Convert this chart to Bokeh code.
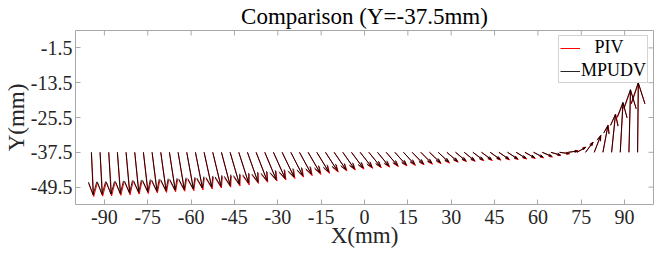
from bokeh.plotting import figure
from bokeh.models import FixedTicker, Legend, LegendItem, Range1d
from bokeh.embed import file_html
from bokeh.resources import INLINE

# ---- data (mm) ----
x_pos = [-94.5, -91.5, -88.5, -85.5, -82.5, -79.5, -76.5, -73.5,
         -70.5, -67.5, -64.5, -61.5, -58.5, -55.5, -52.5, -49.5,
         -46.5, -43.5, -40.5, -37.5, -34.5, -31.5, -28.5, -25.5,
         -22.5, -19.5, -16.5, -13.5, -10.5, -7.5, -4.5, -1.5,
         1.5, 4.5, 7.5, 10.5, 13.5, 16.5, 19.5, 22.5,
         25.5, 28.5, 31.5, 34.5, 37.5, 40.5, 43.5, 46.5,
         49.5, 52.5, 55.5, 58.5, 61.5, 64.5, 67.5, 70.5,
         73.5, 76.5, 79.5, 82.5, 85.5, 88.5, 91.5, 94.5]
y_row = -37.5

u_piv = [0.8, 0.9, 1.0, 1.2, 1.4, 1.55, 1.7, 1.85,
         2.0, 2.15, 2.3, 2.45, 2.6, 2.8, 3.0, 3.2,
         3.4, 3.6, 3.8, 4.0, 4.2, 4.3, 4.4, 4.4,
         4.4, 4.4, 4.4, 4.4, 4.4, 4.3, 4.3, 4.3,
         4.3, 4.2, 4.2, 4.2, 4.1, 4.1, 4.0, 4.0,
         3.9, 3.9, 3.8, 3.8, 3.8, 3.7, 3.7, 3.7,
         3.7, 3.6, 3.6, 3.5, 3.5, 3.5, 3.5, 3.4,
         3.1, 2.6, 2.3, 1.8, 1.4, 1.0, 0.6, 0.3]
v_piv = [-15.2, -15.1, -15.0, -14.8, -14.6, -14.4, -14.2, -14.0,
         -13.8, -13.6, -13.4, -13.2, -12.9, -12.6, -12.3, -12.0,
         -11.6, -11.2, -10.7, -10.3, -9.9, -9.5, -9.0, -8.5,
         -8.0, -7.6, -7.2, -6.8, -6.4, -6.1, -5.8, -5.5,
         -5.3, -5.1, -4.9, -4.7, -4.5, -4.3, -4.1, -3.9,
         -3.7, -3.4, -3.2, -3.1, -2.9, -2.8, -2.7, -2.6,
         -2.5, -2.3, -2.1, -1.9, -1.6, -1.1, -0.5, 0.5,
         1.8, 3.5, 5.9, 9.4, 13.2, 17.0, 21.4, 23.8]

u_mpudv = [0.6, 0.7, 0.8, 1.0, 1.2, 1.35, 1.5, 1.65,
           1.8, 1.95, 2.1, 2.25, 2.4, 2.6, 2.8, 3.0,
           3.2, 3.4, 3.6, 3.8, 3.9, 4.0, 4.1, 4.1,
           4.1, 4.1, 4.1, 4.1, 4.1, 4.0, 4.0, 4.0,
           4.0, 3.9, 3.9, 3.9, 3.8, 3.8, 3.7, 3.7,
           3.6, 3.6, 3.5, 3.5, 3.5, 3.4, 3.4, 3.4,
           3.4, 3.3, 3.3, 3.2, 3.2, 3.2, 3.2, 3.1,
           2.9, 2.5, 2.2, 1.7, 1.3, 0.9, 0.5, 0.2]
v_mpudv = [-14.6, -14.5, -14.4, -14.2, -14.0, -13.8, -13.6, -13.4,
           -13.2, -13.0, -12.8, -12.6, -12.3, -12.0, -11.7, -11.4,
           -11.0, -10.6, -10.2, -9.8, -9.4, -9.0, -8.5, -8.0,
           -7.5, -7.1, -6.7, -6.3, -6.0, -5.7, -5.4, -5.1,
           -4.9, -4.7, -4.5, -4.3, -4.1, -3.9, -3.7, -3.5,
           -3.3, -3.1, -2.9, -2.8, -2.6, -2.5, -2.4, -2.3,
           -2.2, -2.0, -1.8, -1.6, -1.3, -0.9, -0.4, 0.4,
           1.6, 3.4, 5.7, 9.2, 13.0, 17.2, 21.6, 24.0]

x_ticks = [-90, -75, -60, -45, -30, -15, 0, 15, 30, 45, 60, 75, 90]
x_tick_labels = ["-90", "-75", "-60", "-45", "-30", "-15", "0",
                 "15", "30", "45", "60", "75", "90"]
y_ticks = [-49.5, -37.5, -25.5, -13.5, -1.5]
y_tick_labels = ["-49.5", "-37.5", "-25.5", "-13.5", "-1.5"]

title_text = "Comparison (Y=-37.5mm)"
x_label = "X(mm)"
y_label = "Y(mm)"
series_names = ["\u00a0\u00a0\u00a0PIV", "MPUDV"]

X_MIN, X_MAX = -100, 100
Y_MIN, Y_MAX = -55.5, 4.5
FRAME_W, FRAME_H = 578, 174

# ---- quiver geometry (MATLAB-like arrow heads) ----
HEAD_A, HEAD_B = 0.3, 0.33


def quiver(u, v):
    xs, ys = [], []
    for x0, du, dv in zip(x_pos, u, v):
        tx, ty = x0 + du, y_row + dv
        w1x = tx - HEAD_A * (du + HEAD_B * dv)
        w1y = ty - HEAD_A * (dv - HEAD_B * du)
        w2x = tx - HEAD_A * (du - HEAD_B * dv)
        w2y = ty - HEAD_A * (dv + HEAD_B * du)
        xs.append([x0, tx]); ys.append([y_row, ty])
        xs.append([w1x, tx, w2x]); ys.append([w1y, ty, w2y])
    return xs, ys


FONT = "Liberation Serif"
TXT = "#262626"
BOX = "#a8a8a8"

p = figure(frame_width=FRAME_W, frame_height=FRAME_H, output_backend="svg", toolbar_location=None,
           x_range=Range1d(X_MIN, X_MAX), y_range=Range1d(Y_MIN, Y_MAX),
           min_border_left=0, min_border_right=1, min_border_top=0, min_border_bottom=0)
p.grid.visible = False
p.outline_line_color = BOX
p.outline_line_width = 1
p.background_fill_color = "white"
p.border_fill_color = "white"

p.title.text = title_text
p.title.text_font = FONT
p.title.text_font_size = "23px"
p.title.text_font_style = "normal"
p.title.text_color = "#000000"
p.title.align = "center"
p.title.standoff = 3

xs_r, ys_r = quiver(u_piv, v_piv)
xs_k, ys_k = quiver(u_mpudv, v_mpudv)
r_piv = p.multi_line(xs_r, ys_r, line_color="#ff0000", line_width=1, line_join="round")
r_mp = p.multi_line(xs_k, ys_k, line_color="#000000", line_width=1, line_alpha=0.85, line_join="round")

# box ticks on the top and right sides (inward, ~5 px)
tick_dy = 5 * (Y_MAX - Y_MIN) / FRAME_H
tick_dx = 5 * (X_MAX - X_MIN) / FRAME_W
p.segment(x0=x_ticks, y0=[Y_MAX] * len(x_ticks), x1=x_ticks, y1=[Y_MAX - tick_dy] * len(x_ticks),
          line_color=BOX, line_width=1)
p.segment(x0=[X_MAX] * len(y_ticks), y0=y_ticks, x1=[X_MAX - tick_dx] * len(y_ticks), y1=y_ticks,
          line_color=BOX, line_width=1)

for ax in (p.xaxis[0], p.yaxis[0]):
    ax.axis_line_color = None
    ax.major_tick_line_color = BOX
    ax.major_tick_in = 5
    ax.major_tick_out = 0
    ax.minor_tick_line_color = None
    ax.major_label_text_font = FONT
    ax.major_label_text_color = TXT
    ax.major_label_text_font_size = "20px"
    ax.axis_label_text_font = FONT
    ax.axis_label_text_font_size = "23px"
    ax.axis_label_text_font_style = "normal"
    ax.axis_label_text_color = TXT

p.xaxis.ticker = FixedTicker(ticks=x_ticks)
p.yaxis.ticker = FixedTicker(ticks=y_ticks)
p.xaxis.major_label_overrides = {t: s for t, s in zip(x_ticks, x_tick_labels)}
p.yaxis.major_label_overrides = {t: s for t, s in zip(y_ticks, y_tick_labels)}
p.xaxis.major_label_standoff = 5
p.yaxis.major_label_standoff = 3
p.xaxis.axis_label = x_label
p.yaxis.axis_label = y_label
p.xaxis.axis_label_standoff = -4
p.yaxis.axis_label_standoff = -1

legend = Legend(items=[LegendItem(label=series_names[0], renderers=[r_piv]),
                       LegendItem(label=series_names[1], renderers=[r_mp])],
                location="top_right")
legend.label_text_font = FONT
legend.label_text_font_size = "18px"
legend.label_text_color = "#000000"
legend.glyph_width = 20
legend.glyph_height = 20
legend.label_height = 20
legend.label_standoff = 1
legend.padding = 1
legend.spacing = 2
legend.margin = 5
legend.border_line_color = BOX
legend.background_fill_color = "white"
p.add_layout(legend, "center")

open("out.html", "w").write(file_html(p, INLINE))
